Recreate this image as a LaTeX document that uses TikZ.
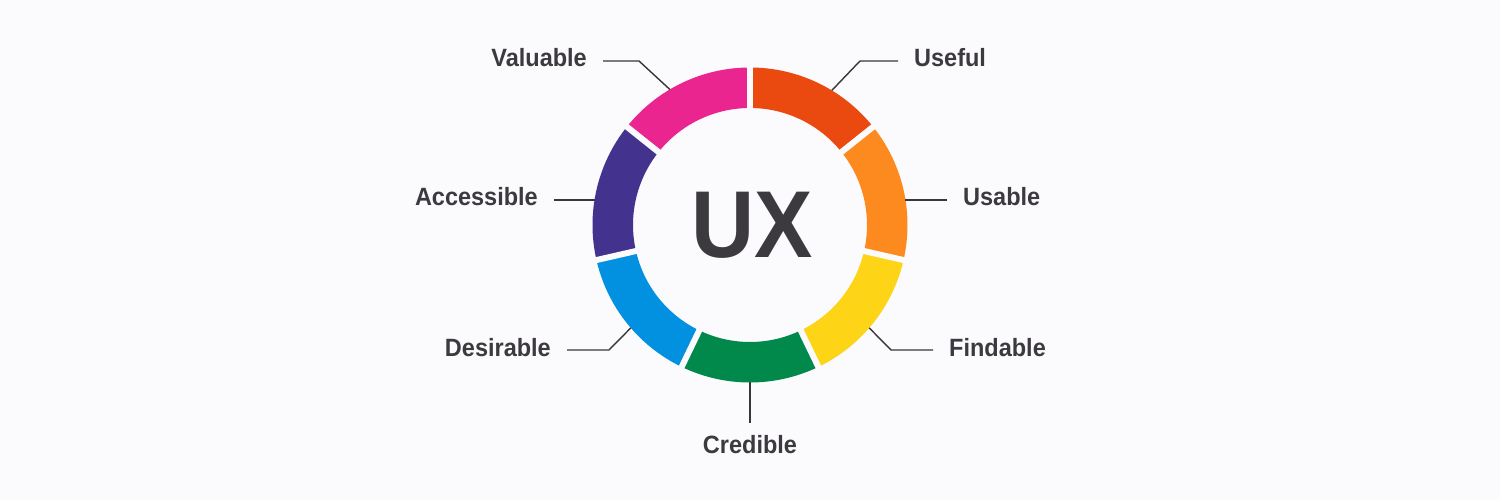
\documentclass[tikz,border=0pt]{standalone}
\usepackage{fontspec}
\setmainfont{Liberation Sans}[FakeStretch=0.94]
\newfontfamily\uxfont{Liberation Sans}[FakeStretch=0.92]
\definecolor{bg}{RGB}{251,250,252}
\definecolor{txt}{RGB}{60,58,63}
\definecolor{lnc}{RGB}{55,55,58}
\definecolor{cUseful}{RGB}{234,74,15}
\definecolor{cUsable}{RGB}{253,138,30}
\definecolor{cFindable}{RGB}{254,213,22}
\definecolor{cCredible}{RGB}{0,137,74}
\definecolor{cDesirable}{RGB}{2,144,224}
\definecolor{cAccessible}{RGB}{67,51,143}
\definecolor{cValuable}{RGB}{234,37,144}
\begin{document}
\begin{tikzpicture}[x=1pt,y=1pt,
  lab/.style={font=\fontsize{25}{30}\selectfont\bfseries, text=txt, inner xsep=16pt, inner ysep=13pt},
  conn/.style={draw=lnc, line width=1.4pt},
  gap/.style={draw=bg, line width=6pt}]
\fill[bg] (0,0) rectangle (1500,500);
\useasboundingbox (0,0) rectangle (1500,500);
\begin{scope}[shift={(750,275)}]
  \foreach \a/\b/\c in {38.57/90/cUseful, -12.86/38.57/cUsable, -64.29/-12.86/cFindable,
      -115.71/-64.29/cCredible, -167.14/-115.71/cDesirable, 141.43/192.86/cAccessible, 90/141.43/cValuable}
    \fill[\c] (\a:157.5) arc[start angle=\a, end angle=\b, radius=157.5]
      -- (\b:117) arc[start angle=\b, end angle=\a, radius=117] -- cycle;
  \foreach \a in {90, 38.57, -12.86, -64.29, -115.71, -167.14, 141.43}
    \draw[gap] (\a:108) -- (\a:166);
  \coordinate (pU) at (58.7:157.5);
  \coordinate (pV) at (120.6:157.5);
  \coordinate (pA) at (170.8:157.5);
  \coordinate (pB) at (9.2:157.5);
  \coordinate (pD) at (220.8:157.5);
  \coordinate (pF) at (-40.8:157.5);
  \coordinate (pC) at (-90:157.5);
  \node[font=\uxfont\fontsize{95}{100}\selectfont\bfseries, text=txt, anchor=base, inner sep=0pt] (ux) at (2.5,-33) {UX};
\end{scope}
% labels
\node[lab, anchor=base east] (lV) at (603,433) {Valuable};
\node[lab, anchor=base west] (lU) at (898,433) {Useful};
\node[lab, anchor=base east] (lA) at (554,294) {Accessible};
\node[lab, anchor=base west] (lB) at (947,294) {Usable};
\node[lab, anchor=base east] (lD) at (567,143) {Desirable};
\node[lab, anchor=base west] (lF) at (933,143) {Findable};
\node[lab, anchor=base] (lC) at (750,46) {Credible};
% elbows
\coordinate (eV) at (639,439);
\coordinate (eU) at (860,439);
\coordinate (eD) at (609,150);
\coordinate (eF) at (891,150);
% connectors
\draw[conn] (pV) -- (eV) -- (eV -| lV.east);
\draw[conn] (pU) -- (eU) -- (eU -| lU.west);
\draw[conn] (pA) -- (pA -| lA.east);
\draw[conn] (pB) -- (pB -| lB.west);
\draw[conn] (pD) -- (eD) -- (eD -| lD.east);
\draw[conn] (pF) -- (eF) -- (eF -| lF.west);
\draw[conn] (pC) -- (lC.north);
\end{tikzpicture}
\end{document}
